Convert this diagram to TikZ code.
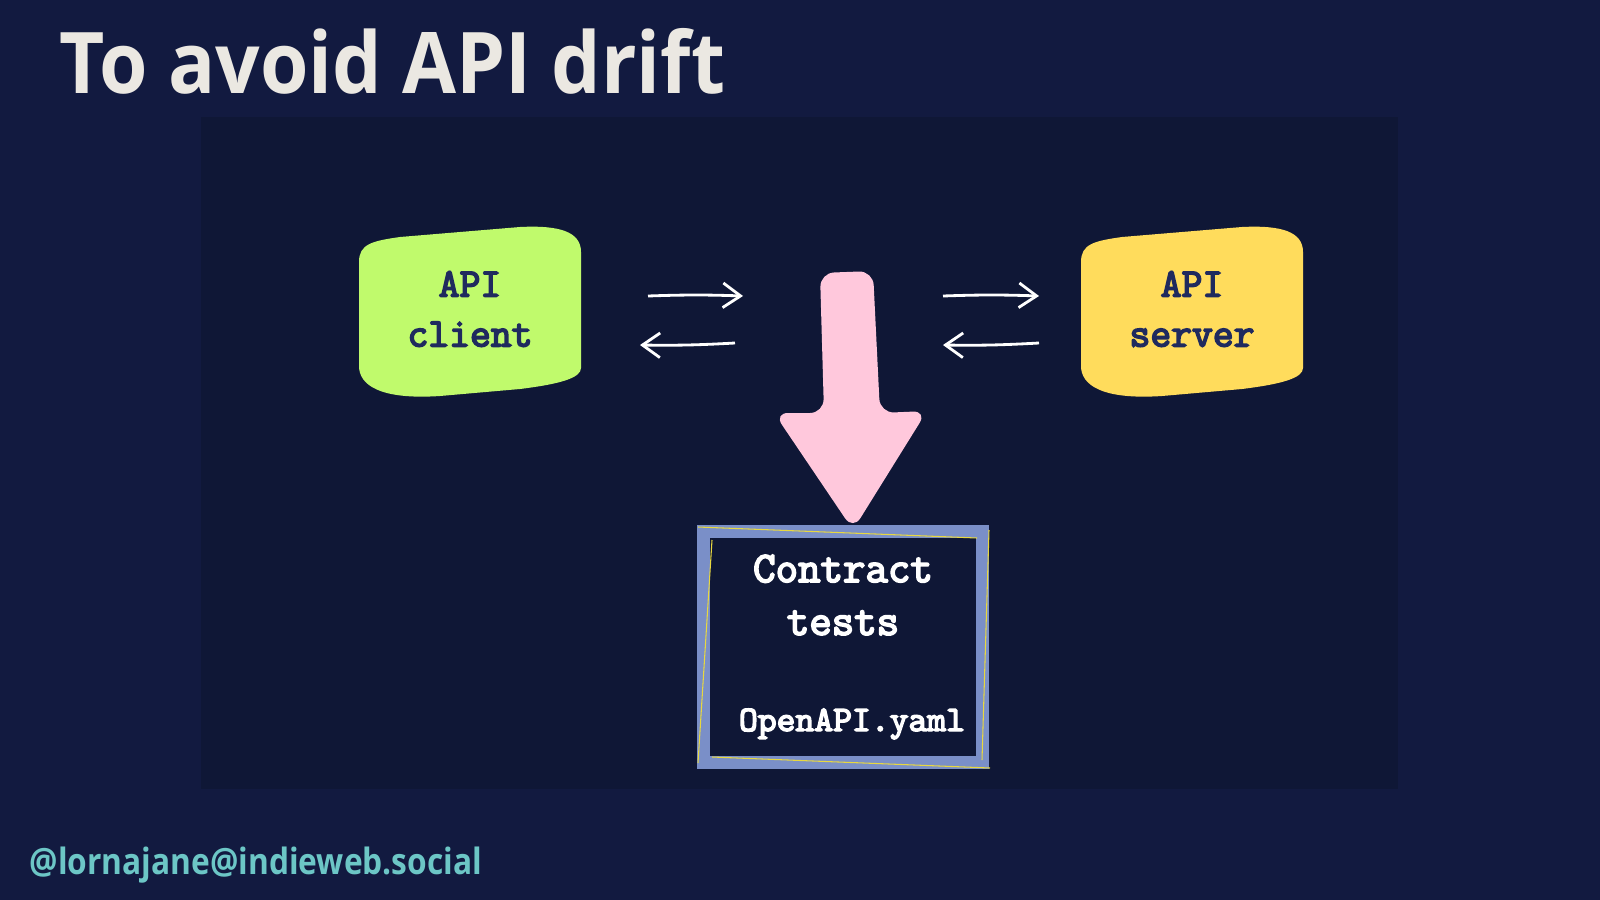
\documentclass[tikz,border=0pt]{standalone}
\usepackage{fontspec}
\setmainfont{Open Sans}
\newfontfamily\narrowfont[FakeStretch=0.92]{Open Sans}
\newfontfamily\handlefont[FakeStretch=0.875]{Open Sans}
\newfontfamily\codefont[FakeBold=4]{Latin Modern Mono}
\usetikzlibrary{arrows.meta}

\definecolor{slidebg}{RGB}{18,26,64}
\definecolor{panelbg}{RGB}{15,23,54}
\definecolor{clientgreen}{RGB}{192,250,108}
\definecolor{serveryellow}{RGB}{255,220,92}
\definecolor{labelnavy}{RGB}{31,42,94}
\definecolor{arrowpink}{RGB}{255,200,220}
\definecolor{frameblue}{RGB}{122,143,200}
\definecolor{titlegrey}{RGB}{235,232,226}
\definecolor{handleteal}{RGB}{108,198,198}
\definecolor{scribble}{RGB}{232,216,64}

\tikzset{
  boxtext/.style={align=center, font=\codefont\fontsize{11.5}{14.2}\selectfont, text=labelnavy},
  testtext/.style={align=center, font=\codefont\fontsize{12.4}{15}\selectfont, text=white},
  flowarrow/.style={draw=white, line width=0.8pt, -{Straight Barb[length=5pt,width=7pt]}},
  blob/.pic={\fill[pic actions] (-111,-50) .. controls (-111,-68) and (-98,-71) .. (-70,-75) -- (50,-85) .. controls (90,-87) and (111,-80) .. (111,-60) -- (111,56) .. controls (111,66) and (90,72) .. (50,77) -- (-30,84) .. controls (-90,88) and (-111,73) .. (-111,54) -- cycle;}
}

\begin{document}
\begin{tikzpicture}[x=0.01cm, y=-0.01cm]
    % Background
    \fill[slidebg] (0,0) rectangle (1600,900);
    \useasboundingbox (0,0) rectangle (1600,900);
    \fill[panelbg] (201,117) rectangle (1398,789);

    % Title and handle
    \node[anchor=base west, inner sep=0pt, font=\narrowfont\bfseries\fontsize{24.2}{29}\selectfont, text=titlegrey] (title) at (59,93) {To avoid API drift};
    \node[anchor=base west, inner sep=0pt, font=\handlefont\bfseries\fontsize{10.3}{13}\selectfont, text=handleteal] (handle) at (29,874) {@lornajane@indieweb.social};

    % Draw blobs
    \pic[fill=clientgreen] at (470,312) {blob};
    \pic[fill=serveryellow] at (1192,312) {blob};

    % Draw nodes
    \node[boxtext] (client) at (470,309) {API\\client};
    \node[boxtext] (server) at (1192,309) {API\\server};
    \node[draw=frameblue, line width=3.7pt, fill=panelbg, minimum width=2.79cm, minimum height=2.3cm] (tests) at (843,647) {};
    \draw[scribble, line width=0.3pt] (698,527) -- (977,538) (989,530) -- (982,760) (712,540) -- (698,763) (712,757) -- (990,768);
    \node[testtext] (contract) at (843,595) {Contract\\tests};
    \node[testtext, anchor=base, font=\codefont\fontsize{10.2}{12}\selectfont] (spec) at (852,731) {OpenAPI.yaml};

    % Draw pink arrow
    \fill[arrowpink, rounded corners=4pt] (824,413) -- (820,273) -- (873,271) -- (880,413) -- (927,411) -- (853,530) -- (774,413) -- cycle;

    % Draw connections
    \coordinate (cl1) at (648,296); \coordinate (cl2) at (743,296);
    \coordinate (cl3) at (735,343); \coordinate (cl4) at (640,345);
    \coordinate (sv1) at (943,296); \coordinate (sv2) at (1039,296);
    \coordinate (sv3) at (1039,343); \coordinate (sv4) at (943,345);
    \draw[flowarrow] (cl1) to[bend left=2] (cl2);
    \draw[flowarrow] (cl3) to[bend left=2] (cl4);
    \draw[flowarrow] (sv1) to[bend left=2] (sv2);
    \draw[flowarrow] (sv3) to[bend left=2] (sv4);
\end{tikzpicture}
\end{document}
